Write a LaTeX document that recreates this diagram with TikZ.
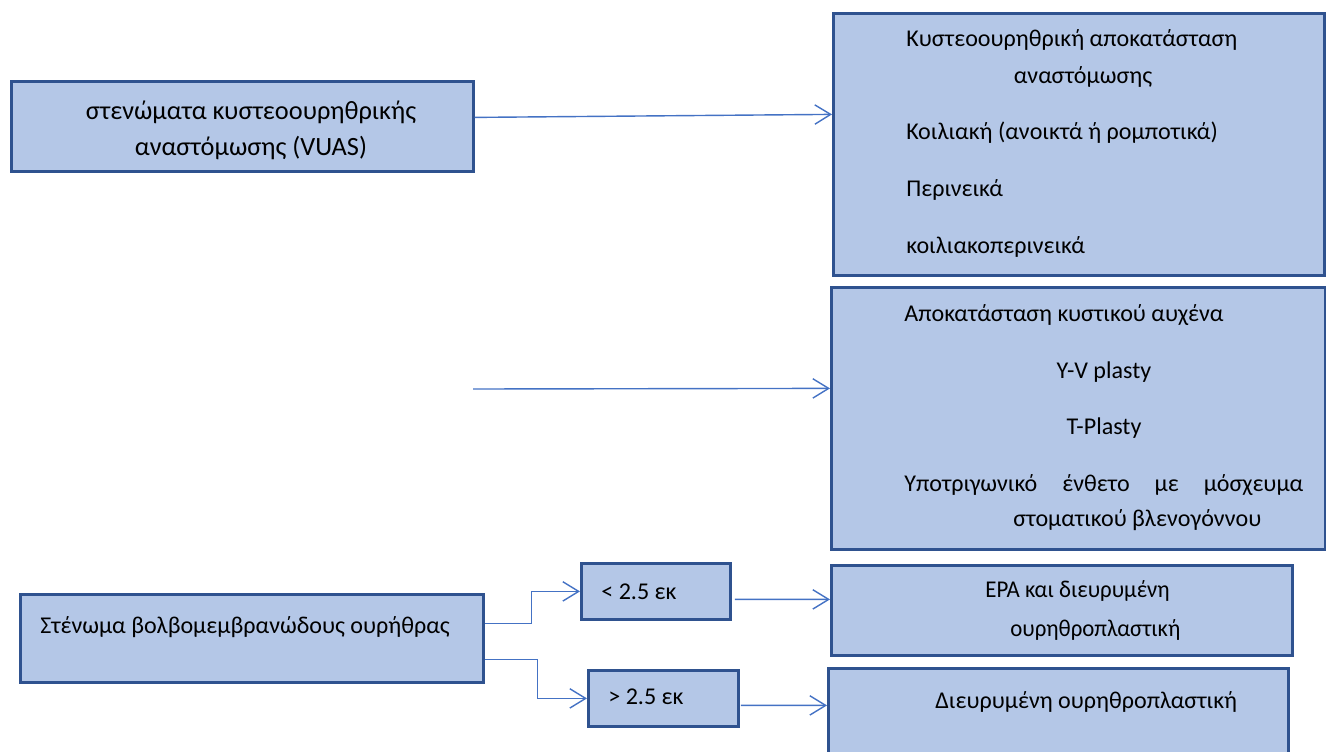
\documentclass[tikz,border=0pt]{standalone}
\usepackage{fontspec}
\setmainfont{Carlito}
\usetikzlibrary{arrows.meta,calc}
\definecolor{boxfill}{HTML}{B4C7E7}
\definecolor{boxline}{HTML}{2F528F}
\definecolor{arrline}{HTML}{4472C4}
\begin{document}
\begin{tikzpicture}[x=0.02cm,y=-0.02cm,
	box/.style={draw=boxline,fill=boxfill,line width=1.6pt,inner sep=0pt,anchor=north west},
	txt/.style={font=\fontsize{13.7}{20.5}\selectfont,inner sep=0pt,anchor=west},
	arr/.style={draw=arrline,line width=0.8pt,-{Straight Barb[length=9pt,width=11pt,line width=0.8pt]}}]
	% page frame
	\clip (0,0) rectangle (1326,751);
	% the boxes
	\node[box,minimum width=9.24cm,minimum height=1.8cm] (vuas) at (10,80) {};
	\node[box,minimum width=9.82cm,minimum height=5.24cm] (anast) at (832,12) {};
	\node[box,minimum width=9.88cm,minimum height=5.24cm] (neck) at (830,286) {};
	\node[box,minimum width=9.26cm,minimum height=1.76cm] (bulb) at (19,593) {};
	\node[box,minimum width=2.98cm,minimum height=1.12cm] (short) at (580,562) {};
	\node[box,minimum width=3.00cm,minimum height=1.12cm] (long) at (587,669) {};
	\node[box,minimum width=9.22cm,minimum height=1.8cm] (epa) at (830,564) {};
	\node[box,minimum width=9.20cm,minimum height=1.88cm] (wide) at (827,667) {};
	% texts of the upper left box
	\node[txt,anchor=center,align=center,font=\fontsize{15}{20.5}\selectfont] (vuastxt) at (251,130) {στενώματα κυστεοουρηθρικής\\αναστόμωσης (VUAS)};
	% texts of the first right box
	\node[txt] (anast1) at (906,40) {Κυστεοουρηθρική αποκατάσταση};
	\node[txt,anchor=center] (anast2) at (1083,77) {αναστόμωσης};
	\node[txt] (anast3) at (906,133) {Κοιλιακή (ανοικτά ή ρομποτικά)};
	\node[txt] (anast4) at (906,190) {Περινεικά};
	\node[txt] (anast5) at (906,247) {κοιλιακοπερινεικά};
	% texts of the second right box
	\node[txt] (neck1) at (904,315) {Αποκατάσταση κυστικού αυχένα};
	\node[txt,anchor=center] (neck2) at (1104,372) {Y-V plasty};
	\node[txt,anchor=center] (neck3) at (1104,428) {T-Plasty};
	\node[txt] (neck4) at (904,485) {\makebox[7.98cm][s]{Υποτριγωνικό ένθετο με μόσχευμα}};
	\node[txt] (neck5) at (1013,520) {στοματικού βλενογόννου};
	% texts of the lower row
	\node[txt] (bulbtxt) at (40,627) {Στένωμα βολβομεμβρανώδους ουρήθρας};
	\node[txt] (shorttxt) at (601,592) {< 2.5 εκ};
	\node[txt] (longtxt) at (608,697) {> 2.5 εκ};
	\node[txt,xscale=0.95] (epa1) at (985,591) {ΕΡΑ και διευρυμένη};
	\node[txt,xscale=0.95] (epa2) at (1010,630) {ουρηθροπλαστική};
	\node[txt] (widetxt) at (935,702) {Διευρυμένη ουρηθροπλαστική};
	% the arrows
	\draw[arr] ($(vuas.east)+(0,-9)$) -- ($(anast.west)+(0,-30)$);
	\coordinate (neckin) at (473,389);
	\draw[arr] (neckin) -- ($(neck.west)+(0,-30)$);
	\draw[arr] ($(bulb.east)+(0,-15)$) -- ++(47,0) |- (short.west);
	\draw[arr] ($(bulb.east)+(0,21)$) -- ++(53,0) |- (long.west);
	\draw[arr] ($(short.east)+(3,8)$) -- ($(epa.west)+(0,-11)$);
	\draw[arr] ($(long.east)+(1,7)$) -- ($(wide.west)+(0,-10)$);
\end{tikzpicture}
\end{document}
